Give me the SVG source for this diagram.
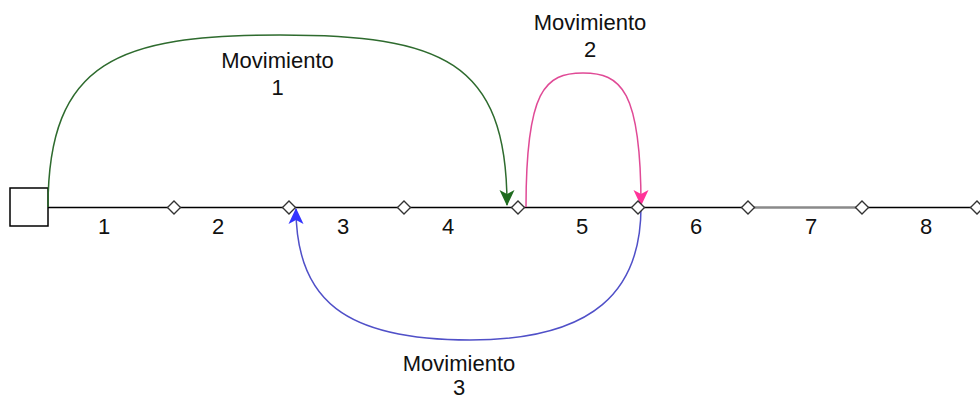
<svg xmlns="http://www.w3.org/2000/svg" width="980" height="400" viewBox="0 0 980 400">
<style>
text{font-family:"Liberation Sans",Arial,sans-serif;font-size:22px;fill:#111;text-anchor:middle}
.dia{fill:#fff;stroke:#333;stroke-width:1.4}
.edge{fill:none;stroke-width:1.5}
</style>
<defs>
<marker id="aG" viewBox="0 0 16 16" refX="15" refY="8" markerWidth="16" markerHeight="16" markerUnits="userSpaceOnUse" orient="auto"><path d="M0,0.5 L16,8 L0,15.5 L4,8 Z" fill="#1f6b1f"/></marker>
<marker id="aP" viewBox="0 0 16 16" refX="15" refY="8" markerWidth="16" markerHeight="16" markerUnits="userSpaceOnUse" orient="auto"><path d="M0,0.5 L16,8 L0,15.5 L4,8 Z" fill="#ff3399"/></marker>
<marker id="aB" viewBox="0 0 16 16" refX="15" refY="8" markerWidth="16" markerHeight="16" markerUnits="userSpaceOnUse" orient="auto"><path d="M0,0.5 L16,8 L0,15.5 L4,8 Z" fill="#3333ff"/></marker>
<path id="d" class="dia" d="M0,-6.5 L6.5,0 L0,6.5 L-6.5,0 Z"/>
</defs>
<g id="track">
<line x1="48" y1="207.5" x2="748" y2="207.5" stroke="#000" stroke-width="1.5"/>
<line x1="748" y1="207.5" x2="862" y2="207.5" stroke="#8a8a8a" stroke-width="2.5"/>
<line x1="862" y1="207.5" x2="977" y2="207.5" stroke="#000" stroke-width="1.5"/>
</g>
<g id="start"><rect x="10" y="188" width="38" height="38" fill="#fff" stroke="#000" stroke-width="1.5"/></g>
<g id="connectors">
<path class="edge" stroke="#2e6b2e" d="M48,207 C48,60 120,35 280,35 C440,35 507,60 507,205" marker-end="url(#aG)"/>
<path class="edge" stroke="#e04a96" d="M526,207 C526,90 545,73 583,73 C621,73 641,90 641,205" marker-end="url(#aP)"/>
<path class="edge" stroke="#5050c8" d="M641,207 C641,290 595,340 470,340 C345,340 296,300 296,209" marker-end="url(#aB)"/>
</g>
<g id="stops">
<use href="#d" x="174" y="207.5"/>
<use href="#d" x="289" y="207.5"/>
<use href="#d" x="404" y="207.5"/>
<use href="#d" x="518" y="207.5"/>
<use href="#d" x="638" y="207.5"/>
<use href="#d" x="748" y="207.5"/>
<use href="#d" x="862" y="207.5"/>
<use href="#d" x="977" y="207.5"/>
</g>
<g id="numbers">
<text x="104" y="234">1</text>
<text x="218" y="234">2</text>
<text x="343" y="234">3</text>
<text x="448" y="234">4</text>
<text x="582" y="234">5</text>
<text x="696" y="234">6</text>
<text x="811" y="234">7</text>
<text x="926" y="234">8</text>
</g>
<g id="labels">
<text x="277.5" y="68">Movimiento</text><text x="277.5" y="95">1</text>
<text x="590" y="30">Movimiento</text><text x="590" y="57">2</text>
<text x="459" y="371">Movimiento</text><text x="459" y="395">3</text>
</g>
</svg>
